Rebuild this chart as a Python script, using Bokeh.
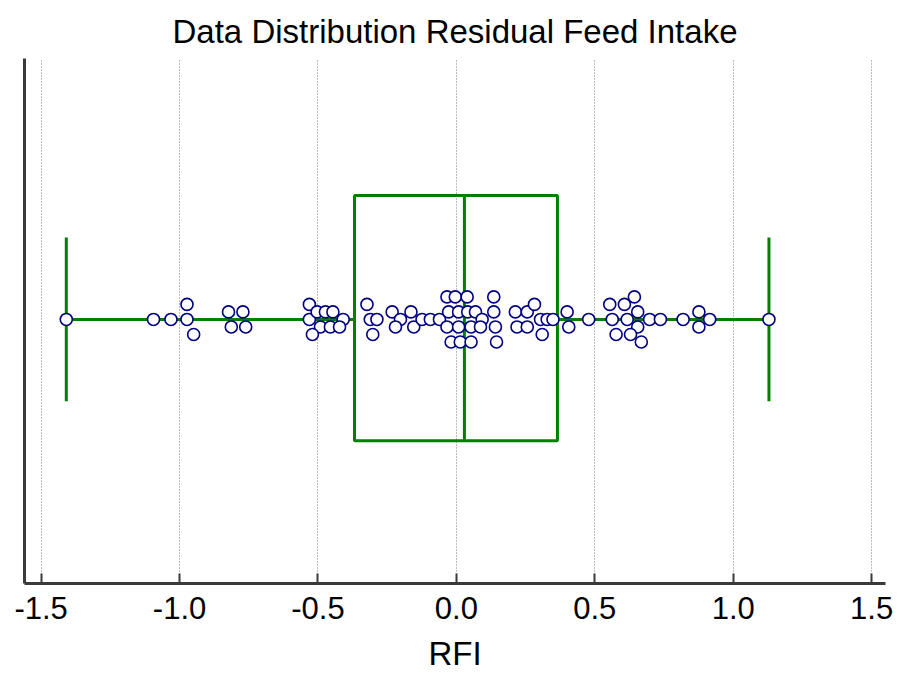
from bokeh.plotting import figure
from bokeh.models import Range1d, FixedTicker, PrintfTickFormatter, ColumnDataSource
from bokeh.embed import file_html
from bokeh.resources import INLINE

# RFI values, with their swarm row (beeswarm offset level)
rfi = [-1.409, -1.094, -1.031, -0.973, -0.973, -0.949, -0.823, -0.771, -0.813, -0.761,
       -0.531, -0.531, -0.503, -0.473, -0.446, -0.409, -0.491, -0.455, -0.422, -0.520,
       -0.323, -0.311, -0.287, -0.302,
       -0.232, -0.202, -0.220, -0.164, -0.154, -0.124, -0.094, -0.061,
       -0.034, -0.004, 0.039, -0.028, 0.008, 0.041, 0.069, 0.093,
       -0.034, 0.008, 0.053, 0.087, -0.019, 0.014, 0.053,
       0.135, 0.135, 0.141, 0.145, 0.213, 0.219, 0.256, 0.256, 0.282,
       0.304, 0.328, 0.349, 0.310,
       0.400, 0.406, 0.478, 0.554, 0.607, 0.643, 0.563, 0.617, 0.655, 0.655,
       0.698, 0.737, 0.577, 0.629, 0.668, 0.819, 0.876, 0.876, 0.915, 1.129]
swarm_row = [0, 0, 0, 2, 0, -2, 1, 1, -1, -1,
             2, 0, 1, 1, 1, 0, -1, -1, -1, -2,
             2, 0, 0, -2,
             1, 0, -1, 1, -1, 0, 0, 0,
             3, 3, 3, 1, 1, 1, 1, 0,
             -1, -1, -1, -1, -3, -3, -3,
             3, 1, -1, -3, 1, -1, 1, -1, 2,
             0, 0, 0, -2,
             1, -1, 0, 2, 2, 3, 0, 0, 1, -1,
             0, 0, -2, -2, -3, 0, 1, -1, 0, 0]

# Box plot statistics
q1, median, q3 = -0.368, 0.029, 0.365
whisker_lo, whisker_hi = min(rfi), max(rfi)

x_ticks = [-1.5, -1.0, -0.5, 0.0, 0.5, 1.0, 1.5]

FONT = "'Liberation Sans', Arial, sans-serif"
GREEN = "#008000"
center = 0.503
box_lo, box_hi = 0.272, 0.739
cap_lo, cap_hi = 0.347, 0.659
row_step = 0.0143

p = figure(width=902, height=676, output_backend="svg", toolbar_location=None,
           x_range=Range1d(-1.56, 1.55), y_range=Range1d(0, 1),
           min_border_left=24, min_border_right=17, min_border_top=58, min_border_bottom=93,
           title="Data Distribution Residual Feed Intake")
p.outline_line_color = None
p.background_fill_color = "white"

p.title.align = "center"
p.title.text_font = FONT
p.title.text_font_size = "33px"
p.title.text_font_style = "normal"
p.title.text_color = "black"
p.title.standoff = 18

# x axis
p.xaxis.ticker = FixedTicker(ticks=x_ticks)
p.xaxis.formatter = PrintfTickFormatter(format="%.1f")
p.xaxis.axis_label = "RFI"
p.xaxis.axis_label_text_font = FONT
p.xaxis.axis_label_text_font_size = "33px"
p.xaxis.axis_label_text_font_style = "normal"
p.xaxis.axis_label_text_color = "black"
p.xaxis.axis_label_standoff = 13
p.xaxis.major_label_text_font = FONT
p.xaxis.major_label_text_font_size = "31px"
p.xaxis.major_label_text_color = "black"
p.xaxis.major_label_standoff = 13
p.xaxis.axis_line_width = 3
p.xaxis.axis_line_color = "#3a3a3a"
p.xaxis.major_tick_line_color = "#3a3a3a"
p.xaxis.major_tick_line_width = 2
p.xaxis.major_tick_in = 10
p.xaxis.major_tick_out = 0
p.xaxis.minor_tick_line_color = None

# y axis: just a spine
p.yaxis.ticker = FixedTicker(ticks=[])
p.yaxis.major_label_text_font_size = "0px"
p.yaxis.major_tick_line_color = None
p.yaxis.minor_tick_line_color = None
p.yaxis.axis_line_width = 3
p.yaxis.axis_line_color = "#3a3a3a"

p.xgrid.grid_line_color = "#777777"
p.xgrid.grid_line_dash = "1 2"
p.xgrid.grid_line_width = 1
p.ygrid.grid_line_color = None

# box
p.quad(left=[q1], right=[q3], bottom=[box_lo], top=[box_hi],
       fill_color=None, line_color=GREEN, line_width=3)
p.segment(x0=[median], x1=[median], y0=[box_lo], y1=[box_hi],
          line_color=GREEN, line_width=3)
# whiskers
p.segment(x0=[whisker_lo, q3], x1=[q1, whisker_hi], y0=[center, center], y1=[center, center],
          line_color=GREEN, line_width=3)
p.segment(x0=[whisker_lo, whisker_hi], x1=[whisker_lo, whisker_hi],
          y0=[cap_lo] * 2, y1=[cap_hi] * 2,
          line_color=GREEN, line_width=3)

src = ColumnDataSource(dict(x=rfi, y=[center + r * row_step for r in swarm_row]))
p.scatter("x", "y", source=src, size=12, fill_color="white", line_color="#000080", line_width=1.6)

open("out.html", "w").write(file_html(p, INLINE))
